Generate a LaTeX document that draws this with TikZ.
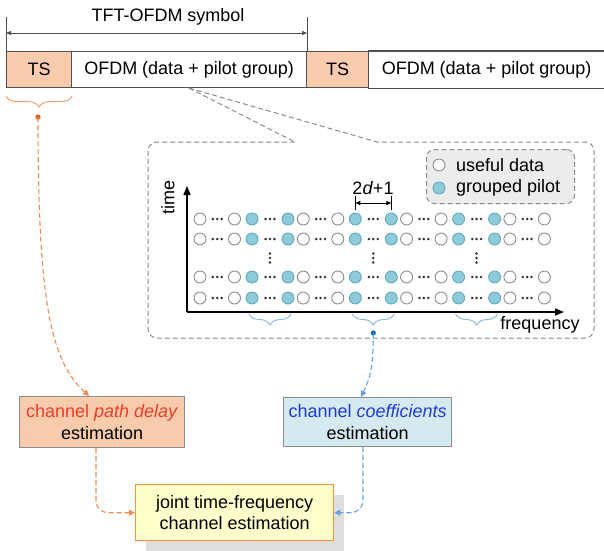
\documentclass[tikz,border=0pt]{standalone}
\usepackage{fontspec}
\setmainfont{Liberation Sans}
\usetikzlibrary{arrows.meta,decorations.pathreplacing,calc,shadows}
\definecolor{tsfill}{RGB}{248,203,173}
\definecolor{blkline}{RGB}{80,80,80}
\definecolor{grayd}{RGB}{140,140,140}
\definecolor{legfill}{RGB}{236,236,236}
\definecolor{pilotfill}{RGB}{142,203,218}
\definecolor{pilotline}{RGB}{100,170,190}
\definecolor{dataline}{RGB}{140,140,140}
\definecolor{dotc}{RGB}{50,50,50}
\definecolor{bracebl}{RGB}{140,190,215}
\definecolor{braceor}{RGB}{240,160,110}
\definecolor{orline}{RGB}{240,140,80}
\definecolor{ordot}{RGB}{220,100,30}
\definecolor{blline}{RGB}{100,160,220}
\definecolor{bldot}{RGB}{20,100,190}
\definecolor{redtxt}{RGB}{240,60,40}
\definecolor{bluetxt}{RGB}{30,60,210}
\definecolor{coefffill}{RGB}{212,234,240}
\definecolor{jointfill}{RGB}{255,255,204}
\definecolor{jointline}{RGB}{240,150,60}
\definecolor{shadowc}{RGB}{222,222,222}
\begin{document}
\begin{tikzpicture}[x=1pt,y=-1pt,
  font=\fontsize{18}{21.5}\selectfont,
  blk/.style={draw=blkline,line width=1.1pt,minimum height=36pt,inner sep=0pt,anchor=north west},
  ebox/.style={draw=grayd,line width=1.1pt,inner sep=0pt,align=center,anchor=north west},
  datac/.style={draw=dataline,fill=white,line width=0.9pt},
  pilotc/.style={draw=pilotline,fill=pilotfill,line width=0.9pt},
  gdash/.style={draw=grayd,line width=1pt,dash pattern=on 5pt off 3pt},
  ordash/.style={draw=orline,line width=1.1pt,dash pattern=on 5pt off 3pt,-{Triangle[length=6pt,width=6pt]}},
  bldash/.style={draw=blline,line width=1.1pt,dash pattern=on 5pt off 3pt,-{Triangle[length=6pt,width=6pt]}},
  axisc/.style={line width=1.4pt,-{Triangle[length=9pt,width=7pt]}},
  bbrace/.style={draw=bracebl,line width=1pt,decorate,decoration={brace,amplitude=11pt}},
]
\useasboundingbox (0,0) rectangle (604,550);

% top frame
\node[blk,fill=tsfill,minimum width=65pt] (ts1) at (6,51) {TS};
\node[blk,minimum width=235pt] (ofdm1) at (71,51) {OFDM (data + pilot group)};
\node[blk,fill=tsfill,minimum width=62pt] (ts2) at (306,51) {TS};
\node[blk,draw=none,minimum width=236pt] (ofdm2) at (368,51) {OFDM (data + pilot group)};
\draw[blkline,line width=1.1pt] (ofdm2.north west) -- ++(245,0) (ofdm2.south west) -- ++(245,0);

\draw[blkline,line width=0.8pt] (ts1.north west) -- ++(0,-34) coordinate (tk1);
\draw[blkline,line width=0.8pt] (ofdm1.north east) -- ++(0,-34) coordinate (tk2);
\draw[blkline,line width=0.8pt,{Triangle[length=5pt,width=4pt]}-{Triangle[length=5pt,width=4pt]}]
  ($(tk1)+(0,16)$) -- ($(tk2)+(0,16)$);
\node (tft) at (168,17) {TFT-OFDM symbol};

% TS brace
\draw[draw=braceor,line width=1pt,decorate,decoration={brace,amplitude=11pt}]
  ($(ts1.south east)+(0,8)$) -- ($(ts1.south west)+(0,8)$);
\coordinate (tsdot) at (38,117);
\fill[ordot] (tsdot) circle[radius=2.6];

% callout
\draw[gdash] (ofdm1.south) -- (295,142);
\draw[gdash] (ofdm1.south) -- (377,142);
\draw[gdash,rounded corners=9pt] (295,142) -- (148,142) -- (148,338) -- (594,338) -- (594,142) -- (377,142);

% legend
\node[draw=grayd,fill=legfill,line width=1pt,dash pattern=on 5pt off 3pt,rounded corners=8pt,
  minimum width=148pt,minimum height=54pt,inner sep=0pt,anchor=north west] (leg) at (426,149) {};
\draw[datac] (439,165) circle[radius=6];
\draw[pilotc] (439,188) circle[radius=6];
\node[anchor=west,inner sep=0pt] (lu) at (456,165) {useful data};
\node[anchor=west,inner sep=0pt] (lg) at (456,188) {grouped pilot};

% axes
\coordinate (O) at (187,312);
\draw[axisc] (O) -- (187,186);
\draw[axisc] (O) -- (564,312);
\node[rotate=90] (time) at (168,197) {time};
\node (freq) at (540,325) {frequency};

% grid
\foreach \yy in {219,239,277,298}{
  \foreach \k in {0,1,2,3}{
    \pgfmathsetmacro{\b}{200+103.3*\k}
    \draw[datac] (\b,\yy) circle[radius=6];
    \draw[datac] (\b+34.5,\yy) circle[radius=6];
    \foreach \dx in {-4.4,0,4.4} \fill[dotc] (\b+17.25+\dx,\yy) circle[radius=1.4];
    \ifnum\k<3
      \draw[pilotc] (\b+52,\yy) circle[radius=6];
      \draw[pilotc] (\b+88,\yy) circle[radius=6];
      \foreach \dx in {-4.4,0,4.4} \fill[dotc] (\b+70+\dx,\yy) circle[radius=1.4];
    \fi
  }
}
\foreach \k in {0,1,2}{
  \pgfmathsetmacro{\b}{200+103.3*\k}
  \foreach \dy in {-4.5,0,4.5} \fill[dotc] (\b+70,258+\dy) circle[radius=1.4];
  \draw[bbrace] (\b+91,314) -- (\b+49,314);
}
\coordinate (bldotc) at (373.3,333);
\fill[bldot] (bldotc) circle[radius=2.6];

% 2d+1
\draw[line width=0.8pt] (355.3,196) -- (355.3,210) (391.3,196) -- (391.3,210);
\draw[line width=0.8pt,{Triangle[length=5pt,width=4pt]}-{Triangle[length=5pt,width=4pt]}] (355.3,203) -- (391.3,203);
\node (dd) at (373,188) {2\textit{d}+1};

% bottom boxes
\node[ebox,fill=tsfill,minimum width=165pt,minimum height=51pt] (pd) at (19,396)
  {\textcolor{redtxt}{channel \textit{path delay}}\\estimation};
\node[ebox,fill=coefffill,minimum width=168pt,minimum height=49pt] (coef) at (283,397)
  {\textcolor{bluetxt}{channel \textit{coefficients}}\\estimation};
\node[ebox,draw=jointline,fill=jointfill,line width=1.4pt,minimum width=198pt,minimum height=56pt,
  drop shadow={shadow xshift=10pt,shadow yshift=-10pt,fill=shadowc,opacity=1}] (joint) at (135,484)
  {joint time-frequency\\channel estimation};

% connectors
\draw[ordash] (tsdot) .. controls (38,300) and (50,360) .. ($(pd.north west)+(70,0)$);
\draw[bldash] (bldotc) .. controls (373.3,372) and (369,380) .. ($(coef.north west)+(78,0)$);
\draw[ordash,rounded corners=12pt] ($(pd.south west)+(77,0)$) |- (joint.west);
\draw[bldash,rounded corners=12pt] ($(coef.south west)+(80,0)$) |- (joint.east);
\end{tikzpicture}
\end{document}
